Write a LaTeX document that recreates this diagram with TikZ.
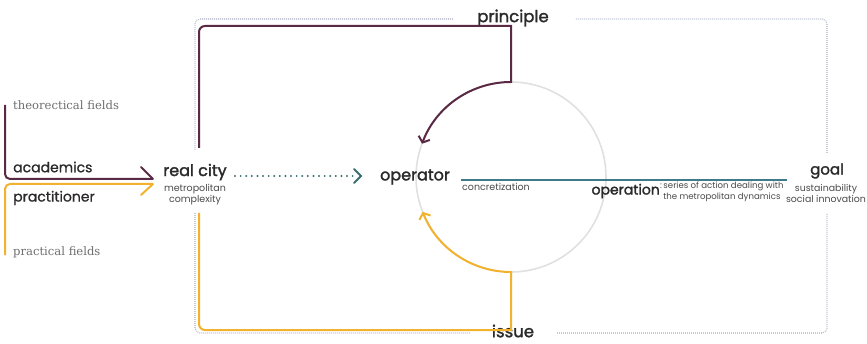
\documentclass[tikz,border=0pt]{standalone}
\usepackage{fontspec}
\setmainfont{Poppins}
\newfontfamily\labelserif{DejaVu Serif}
\newfontfamily\labelheavy[FakeBold=1.8]{Poppins}
\newfontfamily\labelmid[FakeBold=0.8]{Poppins}
\usetikzlibrary{arrows.meta}

\definecolor{plum}{HTML}{5A2A45}
\definecolor{amber}{HTML}{F2B22E}
\definecolor{petrol}{HTML}{3E7A8A}
\definecolor{dotpetrol}{HTML}{3A6E6E}
\definecolor{frame}{HTML}{A9AEC0}
\definecolor{ring}{HTML}{E0E0E0}
\definecolor{ink}{HTML}{2A2A2A}
\definecolor{soft}{HTML}{6E6E6E}

\tikzset{
  big/.style={inner sep=0pt, text=ink, font=\labelheavy\fontsize{16}{18}\selectfont},
  mid/.style={inner sep=0pt, text=ink, font=\labelmid\fontsize{14}{16}\selectfont, anchor=west},
  small/.style={inner sep=0pt, text=ink!85, font=\fontsize{9.5}{11}\selectfont},
  field/.style={inner sep=0pt, text=soft, font=\labelserif\fontsize{11.6}{13}\selectfont, anchor=west},
  plumline/.style={draw=plum, line width=2pt},
  amberline/.style={draw=amber, line width=2pt},
  framedots/.style={draw=frame, line width=1.1pt, dash pattern=on 0.8pt off 1.2pt},
  chev/.style={-{Straight Barb[length=5pt, width=12pt, line width=2pt]}},
}

\begin{document}
\begin{tikzpicture}[x=1pt, y=1pt]
\useasboundingbox (0,0) rectangle (867,343);

% dotted frame, broken at the four labels
\draw[framedots, rounded corners=5] (453,324) -- (195,324) -- (195,193);
\draw[framedots, rounded corners=5] (195,130) -- (195,10) -- (470,10);
\draw[framedots, rounded corners=5] (557,10) -- (827,10) -- (827,130);
\draw[framedots, rounded corners=5] (827,190) -- (827,324) -- (575,324);

% central cycle
\coordinate (c) at (511,166);
\draw[ring, line width=1.6pt] (c) circle[radius=95];

% labels
\node[big] (real) at (195,171) {real city};
\node[small, align=center] (realsub) at (195,148.5) {metropolitan\\complexity};
\node[big] (op) at (415,166) {operator};
\node[small, anchor=north west] (concr) at (462,159.5) {concretization};
\node[big, font=\labelheavy\fontsize{14}{16}\selectfont, anchor=east] (opn) at (660,152) {operation};
\node[small, font=\fontsize{8.6}{11}\selectfont, anchor=north west, align=center] (opnsub) at (660,161) {:\,series of action dealing with\\the metropolitan dynamics};
\node[big, font=\labelheavy\fontsize{15}{17}\selectfont] (goal) at (827,172) {goal};
\node[small, font=\fontsize{9.4}{11.5}\selectfont, align=center] (goalsub) at (826,149.5) {sustainability\\social innovation};
\node[big, font=\labelheavy\fontsize{16.5}{18}\selectfont] (principle) at (513,325) {principle};
\node[big, font=\labelheavy\fontsize{16.5}{18}\selectfont] (issue) at (513,12) {issue};

\node[field] (theory) at (13,238) {theorectical fields};
\node[mid] (acad) at (13,176) {academics};
\node[mid] (pract) at (13,145) {practitioner};
\node[field] (practf) at (13,91) {practical fields};

% anchor points of the connectors
\coordinate (pin) at (153,164);
\coordinate (ain) at (153,159);
\coordinate (ptop) at (511,261);
\coordinate (abot) at (511,71);
\coordinate (pstart) at (199,195);
\coordinate (astart) at (199,130);

% academics and practitioner feed the real city
\draw[plumline] (5,238) [rounded corners=5] -- (5,164) [sharp corners] -- (pin);
\draw[plumline, line cap=round] (pin) -- ++(-12,12);
\draw[amberline] (5,88) [rounded corners=5] -- (5,159) [sharp corners] -- (ain);
\draw[amberline, line cap=round] (ain) -- ++(-12,-11);

% real city to operator
\draw[dotpetrol, line width=2.2pt, line cap=round, dash pattern=on 0pt off 5.6pt] (235,167) -- (356,167);
\draw[dotpetrol, line width=2pt, line cap=round] (354,174) -- (361,167) -- (354,160);

% principle loop
\draw[plumline, chev] (pstart)
  [rounded corners=6] -- (199,317) [sharp corners] -- (511,317) -- (ptop)
  arc[start angle=90, end angle=159.5, radius=95];

% issue loop
\draw[amberline, chev] (astart)
  [rounded corners=6] -- (199,13) [sharp corners] -- (511,13) -- (abot)
  arc[start angle=270, end angle=201.5, radius=95];

% operation line
\draw[petrol, line width=1.8pt] (461,163) -- (787,163);
\end{tikzpicture}
\end{document}
